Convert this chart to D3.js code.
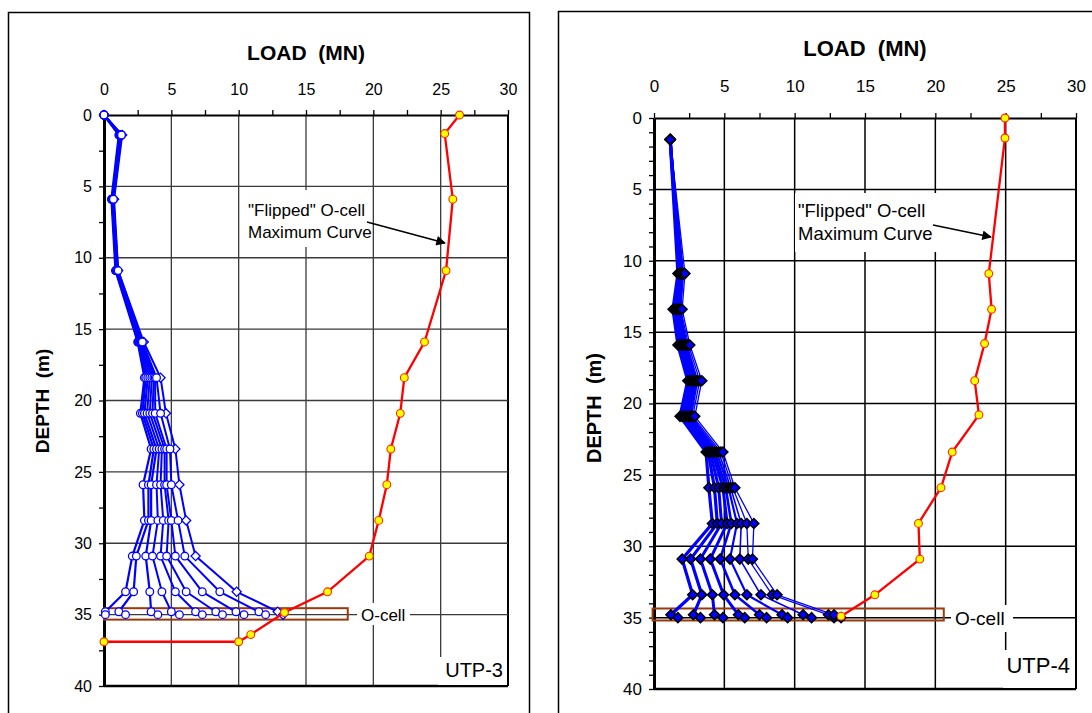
<!DOCTYPE html>
<html>
<head>
<meta charset="utf-8">
<script src="https://cdn.jsdelivr.net/npm/d3@7"></script>
<style>
  body { margin: 0; background: #fff; }
  svg text { font-family: Arial, "Liberation Sans", sans-serif; }
</style>
</head>
<body>
<svg id="chart" width="1092" height="713"></svg>
<script>
// tick labels
const loadTicks = [0, 5, 10, 15, 20, 25, 30]
const depthTicks = [0, 5, 10, 15, 20, 25, 30, 35, 40]

// UTP-3 : load distribution curves (MN) at each gauge depth (m)
const depthsL = [0, 1.4, 5.9, 10.9, 15.9, 18.4, 20.9, 23.4, 25.9, 28.4, 30.9, 33.4, 34.8, 35.0]
const curvesL = [
  [0, 1.1, 0.55, 0.85, 2.5, 3.0, 2.7, 3.5, 2.9, 3.0, 2.1, 1.6, 0.1, 0.1],
  [0, 1.15, 0.6, 0.9, 2.55, 3.1, 2.85, 3.7, 3.3, 3.3, 2.4, 2.2, 1.1, 1.6],
  [0, 1.2, 0.6, 0.9, 2.6, 3.25, 3.0, 3.9, 3.5, 3.5, 3.1, 3.4, 3.5, 4.0],
  [0, 1.2, 0.6, 0.95, 2.65, 3.4, 3.2, 4.1, 3.9, 4.0, 3.6, 4.3, 5.0, 5.6],
  [0, 1.25, 0.65, 0.95, 2.7, 3.55, 3.4, 4.3, 4.2, 4.4, 4.2, 5.3, 6.8, 7.3],
  [0, 1.25, 0.65, 1.0, 2.75, 3.7, 3.6, 4.5, 4.5, 4.8, 4.65, 6.1, 8.3, 8.8],
  [0, 1.3, 0.7, 1.0, 2.8, 3.8, 3.8, 4.65, 4.65, 5.0, 5.3, 7.3, 9.8, 10.4],
  [0, 1.3, 0.7, 1.05, 2.85, 3.9, 4.2, 4.9, 5.0, 5.5, 6.0, 8.6, 11.5, 12.0],
  [0, 1.35, 0.75, 1.05, 2.95, 4.2, 4.6, 5.3, 5.6, 6.1, 6.8, 9.85, 12.9, 13.3]
]
const widthsL = [2.2, 2.2, 2.2, 2, 2, 2, 2, 2, 2]
// "Flipped" O-cell maximum curve, UTP-3
const maxDepthL = [0, 1.3, 5.9, 10.9, 15.9, 18.4, 20.9, 23.4, 25.9, 28.4, 30.9, 33.4, 34.85, 36.4, 36.9, 36.9]
const maxLoadL = [26.4, 25.3, 25.9, 25.4, 23.8, 22.3, 22.0, 21.3, 21.0, 20.4, 19.7, 16.6, 13.4, 10.9, 10.0, 0]

// UTP-4
const depthsR = [1.5, 10.9, 13.4, 15.9, 18.4, 20.9, 23.4, 25.9, 28.4, 30.9, 33.4, 34.8, 35.0]
const curvesR = [
  [1.15, 1.7, 1.35, 1.7, 2.4, 1.85, 3.7, 3.9, 4.15, 2.0, 2.75, 1.2, 1.7],
  [1.15, 1.8, 1.5, 1.85, 2.55, 2.0, 3.85, 4.3, 4.5, 2.6, 3.4, 2.8, 3.3],
  [1.15, 1.85, 1.6, 1.95, 2.7, 2.15, 4.0, 4.6, 4.8, 3.3, 4.15, 4.3, 4.9],
  [1.15, 1.9, 1.7, 2.05, 2.8, 2.3, 4.15, 4.9, 5.2, 4.0, 4.95, 6.0, 6.45],
  [1.15, 1.95, 1.75, 2.15, 2.9, 2.45, 4.3, 5.1, 5.5, 4.7, 5.75, 7.5, 8.0],
  [1.15, 2.0, 1.8, 2.25, 3.0, 2.55, 4.45, 5.3, 5.9, 5.4, 6.6, 9.1, 9.5],
  [1.15, 2.05, 1.85, 2.35, 3.1, 2.65, 4.6, 5.45, 6.2, 6.1, 7.6, 10.6, 11.2],
  [1.15, 2.1, 1.9, 2.45, 3.25, 2.75, 4.75, 5.6, 6.6, 6.7, 8.4, 12.4, 12.8],
  [1.15, 2.2, 2.0, 2.55, 3.4, 2.9, 4.9, 5.75, 7.1, 7.0, 8.75, 12.8, 13.3]
]
const widthsR = [3.2, 3.2, 3, 3, 2.6, 2.2, 1.6, 1.3, 1.3]
const maxDepthR = [0, 1.4, 10.9, 13.4, 15.8, 18.4, 20.8, 23.4, 25.9, 28.4, 30.9, 33.4, 34.9]
const maxLoadR = [24.95, 24.95, 23.8, 24.0, 23.5, 22.8, 23.1, 21.2, 20.4, 18.8, 18.9, 15.7, 13.3]

const svg = d3.select("#chart")

function panel(o) {
  const g = svg.append("g")

  // outer frame
  g.append("rect")
   .attr("x", o.frame[0]).attr("y", o.frame[1])
   .attr("width", o.frame[2]).attr("height", 800)
   .attr("fill", "none").attr("stroke", "#000").attr("stroke-width", 1.5)

  const x = d3.scaleLinear().domain([0, 30]).range(o.xr)
  const y = d3.scaleLinear().domain([0, 40]).range(o.yr)

  // grid
  g.append("g").selectAll("line")
   .data(loadTicks.slice(1)).join("line")
   .attr("x1", d => x(d)).attr("x2", d => x(d))
   .attr("y1", y(0)).attr("y2", y(40))
   .attr("stroke", d => d === 30 ? "#000" : o.grid)
   .attr("stroke-width", d => d === 30 ? 2 : o.gridW)
  g.append("g").selectAll("line")
   .data(depthTicks.slice(1)).join("line")
   .attr("x1", x(0)).attr("x2", x(30))
   .attr("y1", d => y(d)).attr("y2", d => y(d))
   .attr("stroke", d => d === 40 ? "#000" : o.grid)
   .attr("stroke-width", d => d === 40 ? 2.5 : o.gridW)

  // top axis
  const top = g.append("g")
   .attr("transform", "translate(0," + y(0) + ")")
   .call(d3.axisTop(x)
     .tickValues(d3.range(0, 30.01, 2.5))
     .tickSize(5).tickSizeOuter(0).tickPadding(o.xPad)
     .tickFormat(d => loadTicks.includes(d) ? d : ""))
  top.attr("font-size", o.fs).attr("font-family", null)
  top.select(".domain").attr("stroke-width", 1.8)
  top.selectAll(".tick line").attr("stroke-width", 1.3)

  // left axis
  const left = g.append("g")
   .attr("transform", "translate(" + x(0) + ",0)")
   .call(d3.axisLeft(y)
     .tickValues(d3.range(0, 40.01, o.yMinor))
     .tickSize(5).tickSizeOuter(0).tickPadding(7)
     .tickFormat(d => depthTicks.includes(d) ? d : ""))
  left.attr("font-size", o.fs).attr("font-family", null)
  left.select(".domain").attr("stroke-width", 3)
  left.selectAll(".tick line").attr("stroke-width", 1.3)

  // titles
  g.append("text")
   .attr("x", o.titleX).attr("y", o.titleY)
   .attr("text-anchor", "middle")
   .attr("font-weight", "bold").attr("font-size", o.titleFs)
   .style("white-space", "pre")
   .text("LOAD  (MN)")
  g.append("text")
   .attr("transform", "translate(" + o.yLab[0] + "," + o.yLab[1] + ") rotate(-90)")
   .attr("text-anchor", "middle")
   .attr("font-weight", "bold").attr("font-size", o.yLabFs)
   .style("white-space", "pre")
   .text("DEPTH  (m)")

  // O-cell box
  g.append("rect")
   .attr("x", x(o.box[0])).attr("y", y(o.box[2]))
   .attr("width", x(o.box[1]) - x(o.box[0]))
   .attr("height", y(o.box[3]) - y(o.box[2]))
   .attr("fill", "none").attr("stroke", "#9a3a0a").attr("stroke-width", 2)

  // blue load curves
  const line = d3.line().x(d => x(d[0])).y(d => y(d[1]))
  o.curves.forEach((c, i) => {
    g.append("path")
     .attr("d", line(c.map((v, j) => [v, o.depths[j]])))
     .attr("fill", "none").attr("stroke", "#0000ff")
     .attr("stroke-width", o.widths[i]).attr("stroke-linejoin", "round")
  })
  // markers: the open-diamond curve first so the circles sit on top of it
  const last = o.curves.length - 1
  const order = o.filled ? o.curves.map((c, i) => i) : [last].concat(o.curves.map((c, i) => i).slice(0, last))
  order.forEach(i => {
    const pts = o.curves[i].map((v, j) => [v, o.depths[j]])
    const diamond = o.filled || i === last
    g.append("g").selectAll("path")
     .data(pts).join("path")
     .attr("transform", d => "translate(" + x(d[0]) + "," + y(d[1]) + ")" + (diamond ? " rotate(45)" : ""))
     .attr("d", diamond ? d3.symbol(d3.symbolSquare, o.filled ? 48 : 42)() : d3.symbol(d3.symbolCircle, 46)())
     .attr("fill", o.filled ? "#0000ff" : "#fff")
     .attr("stroke", o.filled ? "#000" : "#0000ff")
     .attr("stroke-width", o.filled ? 1.6 : 1.3)
  })

  // flipped O-cell maximum curve
  const maxPts = o.maxLoad.map((v, j) => [v, o.maxDepth[j]])
  g.append("path")
   .attr("d", line(maxPts))
   .attr("fill", "none").attr("stroke", "#ff0000").attr("stroke-width", 2.3)
  g.append("g").selectAll("circle")
   .data(maxPts).join("circle")
   .attr("cx", d => x(d[0])).attr("cy", d => y(d[1])).attr("r", 3.9)
   .attr("fill", "#ffff00").attr("stroke", "#ff2a00").attr("stroke-width", 1.1)

  // annotation
  const a = o.note
  g.append("rect").attr("x", a.bg[0]).attr("y", a.bg[1]).attr("width", a.bg[2]).attr("height", a.bg[3]).attr("fill", "#fff")
  g.append("text").attr("x", a.x).attr("y", a.y1).attr("font-size", a.fs).text('"Flipped" O-cell')
  g.append("text").attr("x", a.x).attr("y", a.y2).attr("font-size", a.fs).text("Maximum Curve")
  g.append("line")
   .attr("x1", a.arrow[0]).attr("y1", a.arrow[1]).attr("x2", a.arrow[2]).attr("y2", a.arrow[3])
   .attr("stroke", "#000").attr("stroke-width", 1.6).attr("marker-end", "url(#arrow)")

  // O-cell label
  const c = o.ocell
  g.append("rect").attr("x", c.bg[0]).attr("y", c.bg[1]).attr("width", c.bg[2]).attr("height", c.bg[3]).attr("fill", "#fff")
  g.append("text").attr("x", c.x).attr("y", c.y).attr("font-size", c.fs).text("O-cell")

  // pile name
  const p = o.pile
  g.append("rect").attr("x", p.bg[0]).attr("y", p.bg[1]).attr("width", p.bg[2]).attr("height", p.bg[3]).attr("fill", "#fff")
  g.append("text").attr("x", p.x).attr("y", p.y).attr("font-size", p.fs).attr("text-anchor", "end").text(p.name)
}

svg.append("defs").append("marker")
   .attr("id", "arrow").attr("viewBox", "0 0 10 10")
   .attr("refX", 9).attr("refY", 5)
   .attr("markerWidth", 7).attr("markerHeight", 6)
   .attr("markerUnits", "strokeWidth").attr("orient", "auto")
   .append("path").attr("d", "M0,0 L10,5 L0,10 z").attr("fill", "#000")

panel({
  frame: [8.5, 12.5, 521],
  xr: [104, 508], yr: [115, 686],
  grid: "#3a3a3a", gridW: 1.3,
  xPad: 15, yMinor: 2.5, fs: 16,
  titleX: 306, titleY: 60, titleFs: 21,
  yLab: [49, 401], yLabFs: 19,
  box: [0, 18.1, 34.55, 35.35],
  depths: depthsL, curves: curvesL, widths: widthsL, filled: false,
  maxDepth: maxDepthL, maxLoad: maxLoadL,
  note: { bg: [242, 190, 130, 57], x: 248, y1: 216, y2: 238, fs: 17, arrow: [367, 222, 445, 243] },
  ocell: { bg: [357, 603, 53, 22], x: 361, y: 621, fs: 17 },
  pile: { bg: [438, 657, 69, 28], x: 503, y: 677, fs: 20, name: "UTP-3" }
})

panel({
  frame: [558.5, 11.5, 600],
  xr: [654, 1076], yr: [118, 689],
  grid: "#000", gridW: 1.5,
  xPad: 21, yMinor: 1, fs: 17,
  titleX: 865, titleY: 56, titleFs: 22,
  yLab: [601, 408], yLabFs: 20,
  box: [-0.1, 20.6, 34.36, 35.2],
  depths: depthsR, curves: curvesR, widths: widthsR, filled: true,
  maxDepth: maxDepthR, maxLoad: maxLoadR,
  note: { bg: [795, 193, 142, 59], x: 798, y1: 217, y2: 240, fs: 18.5, arrow: [933, 225, 991, 237] },
  ocell: { bg: [951, 605, 62, 27], x: 955, y: 625, fs: 19 },
  pile: { bg: [1003, 650, 72, 38], x: 1070, y: 673, fs: 22, name: "UTP-4" }
})
</script>
</body>
</html>
